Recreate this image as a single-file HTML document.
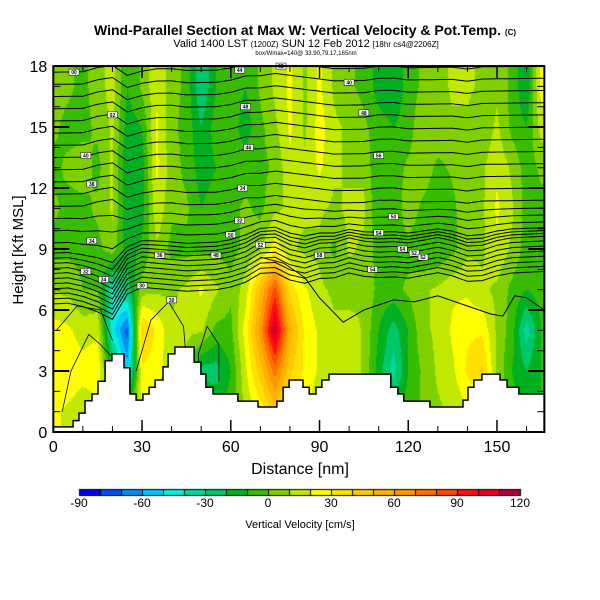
<!DOCTYPE html>
<html><head><meta charset="utf-8">
<style>
body{margin:0;background:#fff;width:600px;height:600px;overflow:hidden;font-family:"Liberation Sans",sans-serif;}
#wrap{position:relative;width:600px;height:600px;}
canvas{position:absolute;left:0;top:0;}
svg{position:absolute;left:0;top:0;}
</style></head>
<body>
<div id="wrap">
<canvas id="cv" width="600" height="600"></canvas>
<svg id="sv" width="600" height="600" xmlns="http://www.w3.org/2000/svg">
<text x="305" y="35" text-anchor="middle" font-size="14" font-weight="bold">Wind-Parallel Section at Max W: Vertical Velocity &amp; Pot.Temp. <tspan font-size="8">(C)</tspan></text>
<text x="306" y="47" text-anchor="middle" font-size="11">Valid 1400 LST <tspan font-size="8">(1200Z)</tspan> SUN 12 Feb 2012 <tspan font-size="8">[18hr cs4@2206Z]</tspan></text>
<text x="306" y="55" text-anchor="middle" font-size="6">box/Wmax=140@ 33.90,79.17,165nm</text>
<text x="300" y="474" text-anchor="middle" font-size="16">Distance [nm]</text>
<text transform="translate(23,250) rotate(-90)" text-anchor="middle" font-size="15">Height [Kft MSL]</text>
<text x="300" y="528" text-anchor="middle" font-size="11">Vertical Velocity [cm/s]</text>
<g id="overlay"></g>
</svg>
</div>
<script>
// ---- data ----
const colNm = [0,5,10,15,20,25,30,35,40,45,50,55,60,65,70,75,80,85,90,95,100,105,110,115,120,125,130,135,140,145,150,155,160,165];
const rowKft = [17,15,13,11,9,7,5,3,1];
const wCols = [
[5,2,-3,2,-3,8,25,28,22],
[2,-3,2,-3,-3,8,22,28,18],
[-3,-3,5,-3,-3,0,15,25,12],
[5,2,-3,2,-3,0,18,28,15],
[15,12,12,12,5,-40,-45,-15,2],
[-10,-15,-20,-20,-15,-25,-75,-55,0],
[2,-10,-15,-15,-8,5,42,28,20],
[18,22,22,18,8,8,28,25,15],
[5,2,5,2,-3,8,12,12,8],
[-3,-3,-3,2,-3,12,12,8,8],
[-30,-20,-15,-10,-3,22,12,-25,-5],
[-10,-5,-10,-5,-3,12,-3,-25,-10],
[-5,-5,-10,-3,-3,2,-3,-10,-5],
[-10,-15,-5,2,2,15,25,18,12],
[2,-3,-3,-3,8,50,65,45,25],
[12,8,2,8,25,85,115,75,45],
[22,22,18,12,12,35,55,42,28],
[8,8,12,12,8,22,28,28,22],
[22,25,22,12,8,12,18,18,12],
[8,12,12,8,-3,8,12,12,8],
[2,8,8,12,12,2,18,18,8],
[-3,2,8,12,8,8,8,8,8],
[-15,-5,-10,-10,-5,-3,-10,-15,-10],
[-20,-10,-5,-10,-5,-3,-25,-35,-10],
[-5,-5,2,8,-3,2,-10,-10,-5],
[2,8,8,-3,-10,8,8,2,2],
[5,8,-3,-10,-10,12,12,12,8],
[12,8,2,-3,-3,18,22,18,12],
[12,8,8,8,8,18,28,32,18],
[8,2,8,8,8,12,28,42,22],
[8,12,18,22,18,8,8,8,8],
[-3,-3,8,12,8,-3,-5,-10,-5],
[-20,-10,-5,-5,-5,-10,-35,-20,-10],
[25,15,2,-3,-3,-5,-10,-10,-10]];
const terrainEdgesNm = [0,6.7,8.7,10.7,13.1,15.1,17.5,19.8,23.9,25.9,28,30.3,32.4,34.4,37.1,38.8,41.1,47.6,49.9,51.6,54,62.4,69.2,75.6,77.7,79.7,84.4,86.5,88.8,90.8,93.2,114.1,116.5,118.5,127.3,138.5,140.2,142.2,144.9,151,153.4,157.4,166];
const terrainKft = [0.25,0.56,0.93,1.54,1.87,2.5,3.5,3.84,3.16,1.87,1.57,1.87,2.2,2.56,3.2,3.84,4.18,3.44,2.85,2.2,1.87,1.52,1.23,1.52,2.2,2.56,2.2,1.87,2.2,2.56,2.85,2.2,1.87,1.52,1.23,1.57,2.2,2.56,2.85,2.56,2.2,1.87];
const dispUpper = [0,0,0,0.2,0.3,-0.2,0,0.1,0.1,0,0,0,0.1,0.3,0.3,0.4,0.3,0.2,0.1,0,0,0,0.1,0.1,0,0,0,0,-0.1,0,0,0,0,0];
const dispMid = [0,0,-0.2,-0.5,-0.9,0.3,0.6,0.5,0.4,0.3,0.3,0.3,0.4,0.6,1.0,1.0,0.6,0.4,0.6,0.6,0.8,0.6,0.5,0.5,0.4,0.5,0.6,0.4,0.1,0.1,0.3,0.4,0.4,0.4];
const thetaBaseKft = [6.3,6.55,6.8,7.05,7.3,7.55,7.8,8.05,8.3,8.55,8.8,9.3,9.9,10.5,11.1,11.7,12.3,12.9,13.5,14.1,14.7,15.3,15.9,16.5,17.1,17.7];
const lowLineNm = [70,78,85,90,98,105,115,122,130,140,148,152,156,160,166];
const lowLineKft = [8.6,8.3,7.6,6.6,5.4,6.0,6.5,6.4,6.7,6.2,5.8,5.7,6.7,6.6,6.0];
const labelNm = [7,20,11,13,13,11,17,30,36,40,63,65,66,64,63,60,55,70,77,100,105,110,115,110,118,122,125,108,90];
const labelKft = [17.7,15.6,13.6,12.2,9.4,7.9,7.5,7.2,8.7,6.5,17.8,16.0,14.0,12.0,10.4,9.7,8.7,9.2,18.0,17.2,15.7,13.6,10.6,9.8,9.0,8.8,8.6,8.0,8.7];
const labelText = ["00","02","40","38","34","32","34","30","36","30","44","48","46","34","32","50","48","52","52","40","48","56","50","54","54","52","52","54","58"];
const cbTicks = [-90,-60,-30,0,30,60,90,120];
const binColors = ["#0000f0","#0050f0","#0090f0","#00c8f8","#00f0e0","#00d8a0","#00c868","#00b020","#38bc00","#80d000","#c0e800","#ffff00","#ffe000","#ffc800","#ffb000","#ff9800","#ff7000","#ff4800","#ff1010","#e80020","#b00040"];
const xTicks = [0,30,60,90,120,150];
const yTicks = [0,3,6,9,12,15,18];

// ---- axes ----
const X0=53.3, XS=2.958, Y0=432, YS=20.33, XMAX=166, YMAX=18;
const xp = n => X0 + XS*n;
const yp = k => Y0 - YS*k;
const L=xp(0), R=xp(XMAX), T=yp(YMAX), B=yp(0);

function interp1(xs, ys, x){
  if(x<=xs[0]) return ys[0];
  for(let i=1;i<xs.length;i++){ if(x<=xs[i]){const t=(x-xs[i-1])/(xs[i]-xs[i-1]);return ys[i-1]+t*(ys[i]-ys[i-1]);} }
  return ys[ys.length-1];
}
function wAt(n,k){
  let ci=0; for(let i=0;i<colNm.length-1;i++){ if(n>=colNm[i]) ci=i; }
  const tc=Math.max(0,Math.min(1,(n-colNm[ci])/(colNm[ci+1]-colNm[ci])));
  let kk=Math.max(rowKft[rowKft.length-1],Math.min(rowKft[0],k));
  let ri=0; for(let i=0;i<rowKft.length-1;i++){ if(kk<=rowKft[i]) ri=i; }
  const tr=(rowKft[ri]-kk)/(rowKft[ri]-rowKft[ri+1]);
  const a=wCols[ci][ri], b=wCols[ci+1][ri], c=wCols[ci][ri+1], d=wCols[ci+1][ri+1];
  return (a*(1-tc)+b*tc)*(1-tr)+(c*(1-tc)+d*tc)*tr;
}
function binColor(w){ let i=Math.floor((w+90)/10); i=Math.max(0,Math.min(20,i)); return binColors[i]; }

// ---- heatmap ----
const cv=document.getElementById('cv'); const ctx=cv.getContext('2d');
for(let px=Math.floor(L); px<Math.ceil(R); px++){
  for(let py=Math.floor(T); py<Math.ceil(B); py+=2){
    const n=(px+0.5-X0)/XS, k=(Y0-(py+1))/YS;
    ctx.fillStyle=binColor(wAt(n,k));
    ctx.fillRect(px,py,1,2);
  }
}
// colorbar
const CBL=79, CBR=520, CBT=489, CBH=6;
const bw=(CBR-CBL)/binColors.length;
binColors.forEach((c,i)=>{ctx.fillStyle=c;ctx.fillRect(CBL+i*bw,CBT,bw,CBH);});
ctx.strokeStyle="#000";ctx.lineWidth=1;
for(let i=0;i<=binColors.length;i++){ctx.beginPath();ctx.moveTo(Math.round(CBL+i*bw)+0.5,CBT);ctx.lineTo(Math.round(CBL+i*bw)+0.5,CBT+CBH);ctx.stroke();}
ctx.strokeRect(CBL+0.5,CBT+0.5,CBR-CBL,CBH);

// ---- overlay ----
const NS="http://www.w3.org/2000/svg";
const g=document.getElementById('overlay');
function mk(tag,attrs){const e=document.createElementNS(NS,tag);for(const a in attrs)e.setAttribute(a,attrs[a]);g.appendChild(e);return e;}

thetaBaseKft.forEach((b,i)=>{
  const fade=Math.max(0,Math.min(1,(11-b)/3));
  const rise = 1.2*fade + 0.3*(1-fade);
  let d="";
  for(let n=0;n<=XMAX;n+=1){
    const disp=interp1(colNm,dispMid,n)*fade+interp1(colNm,dispUpper,n)*(1-fade);
    const k=Math.min(18,b+rise*n/XMAX+disp);
    d+=(n===0?"M":"L")+xp(n).toFixed(1)+","+yp(k).toFixed(1);
  }
  const p=mk('path',{d:d,fill:"none",stroke:"#000","stroke-width":"1"});
  
  
});
{
  let d=""; lowLineNm.forEach((n,i)=>{d+=(i?"L":"M")+xp(n).toFixed(1)+","+yp(lowLineKft[i]).toFixed(1);});
  const p=mk('path',{d:d,fill:"none",stroke:"#000","stroke-width":"1"});
  
  
}
[[ [1,5],[8,6.2],[16,6.0],[20,4.5] ],[ [3,1],[6,3],[12,4.8],[16,4.3],[21,3.5] ],[ [28,3],[33,5.5],[39,6.4],[44,5.2],[45,3.5] ],[ [50,2],[49,3.8],[52,5.2],[56,4.3],[56,2.5] ]].forEach((pts,j)=>{
  let d=""; pts.forEach((p,i)=>{d+=(i?"L":"M")+xp(p[0]).toFixed(1)+","+yp(p[1]).toFixed(1);});
  const p=mk('path',{d:d,fill:"none",stroke:"#000","stroke-width":"0.8"});
  
  
});

{
  let d="M"+xp(0)+","+B;
  for(let i=0;i<terrainKft.length;i++){
    d+="L"+xp(terrainEdgesNm[i]).toFixed(1)+","+yp(terrainKft[i]).toFixed(1);
    d+="L"+xp(terrainEdgesNm[i+1]).toFixed(1)+","+yp(terrainKft[i]).toFixed(1);
  }
  d+="L"+xp(XMAX)+","+B+"Z";
  const p=mk('path',{d:d,fill:"#fff",stroke:"#000","stroke-width":"1.5"});
  
  
}
labelText.forEach((t,i)=>{
  const x=xp(labelNm[i]), y=yp(labelKft[i]);
  const r=mk('rect',{x:x-5,y:y-3,width:10,height:6,fill:"#fff",stroke:"#000","stroke-width":"0.5"});
  
  
  const tx=mk('text',{x:x,y:y+2,"text-anchor":"middle","font-size":"5","font-weight":"bold"});
  tx.textContent=t;
  
  
});

{
  const r=mk('rect',{x:L,y:T,width:R-L,height:B-T,fill:"none",stroke:"#000","stroke-width":"2"});
  
  
}
for(let n=0;n<=160;n+=10){
  const maj=n%30===0; const len=maj?12:6;
  const t1=mk('line',{x1:xp(n),x2:xp(n),y1:B,y2:B-len,stroke:"#000","stroke-width":maj?1.5:1});
  
  
  const t2=mk('line',{x1:xp(n),x2:xp(n),y1:T,y2:T+len,stroke:"#000","stroke-width":maj?1.5:1});
  
  
}
xTicks.forEach(v=>{
  const t=mk('text',{x:xp(v),y:B+20,"text-anchor":"middle","font-size":"16"});
  t.textContent=v;
  
  
});
for(let k=0;k<=18;k++){
  const maj=k%3===0; const len=maj?16:7;
  const t1=mk('line',{x1:L,x2:L+len,y1:yp(k),y2:yp(k),stroke:"#000","stroke-width":maj?2:1});
  
  
  const t2=mk('line',{x1:R,x2:R-len,y1:yp(k),y2:yp(k),stroke:"#000","stroke-width":maj?2:1});
  
  
}
yTicks.forEach(v=>{
  const t=mk('text',{x:L-6,y:yp(v)+6,"text-anchor":"end","font-size":"16"});
  t.textContent=v;
  
  
});
cbTicks.forEach(v=>{
  const x=CBL+(v+90)/10*bw;
  const t=mk('text',{x:x,y:507,"text-anchor":"middle","font-size":"12"});
  t.textContent=v;
  
  
});
</script>
</body></html>
